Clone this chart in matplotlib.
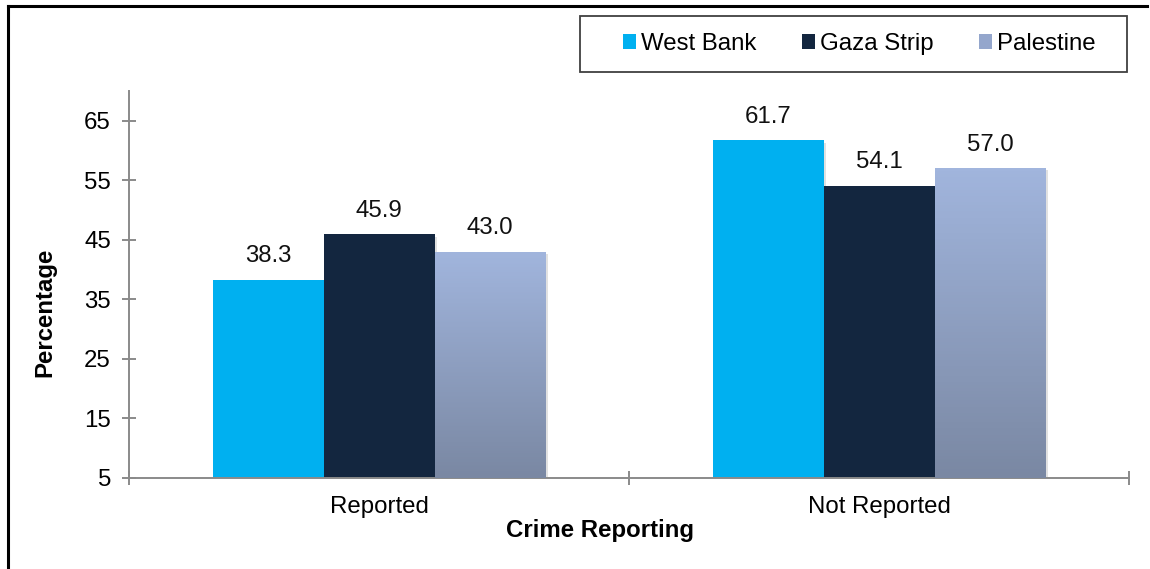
import matplotlib
matplotlib.use("Agg")
import matplotlib.pyplot as plt
import matplotlib.patheffects as pe
from matplotlib.colors import LinearSegmentedColormap
import numpy as np

plt.rcParams['font.family'] = ['Liberation Sans', 'DejaVu Sans']

# data
categories = ['Reported', 'Not Reported']
series_names = ['West Bank', 'Gaza Strip', 'Palestine']
west_bank = [38.3, 61.7]
gaza_strip = [45.9, 54.1]
palestine = [43.0, 57.0]
y_ticks = [5, 15, 25, 35, 45, 55, 65]

colors = ['#00B0F0', '#13263F', '#94A6CC']
grad = LinearSegmentedColormap.from_list('pal', ['#7A88A3', '#A1B5DD'])
axis_grey = '#8A8A8A'
fs = 17.3

fig = plt.figure(figsize=(11.5, 5.69), dpi=100)
ax = fig.add_axes([129 / 1150, 1 - 478 / 569, 1000 / 1150, 387 / 569])

x = np.arange(len(categories))
w = 0.222
shadow = [pe.SimplePatchShadow(offset=(2, -1.5), shadow_rgbFace='#888888', alpha=0.25), pe.Normal()]

all_series = [west_bank, gaza_strip, palestine]
for i, vals in enumerate(all_series):
    bars = ax.bar(x + (i - 1) * w, np.array(vals) - 5, w, bottom=5,
                  color=colors[i], label=series_names[i], zorder=2)
    for b, v in zip(bars, vals):
        b.set_path_effects(shadow)
        if i == 2:
            # gradient fill top to bottom
            x0, x1 = b.get_x(), b.get_x() + b.get_width()
            im = ax.imshow(np.linspace(1, 0, 100).reshape(-1, 1), cmap=grad,
                           extent=[x0, x1, 5, v], aspect='auto', zorder=3)
            im.set_clip_path(b)
        ax.annotate('%.1f' % v, (b.get_x() + b.get_width() / 2, v),
                    xytext=(0, 17), textcoords='offset points',
                    ha='center', va='center', fontsize=fs, color='#111111', zorder=5)

ax.set_xlim(-0.5, 1.5)
ax.set_ylim(5, 70)
ax.set_yticks(y_ticks)
ax.set_xticks([-0.5, 0.5, 1.5])
ax.set_xticklabels([])
ax.set_xticks(x, minor=True)
ax.set_xticklabels(categories, minor=True)
ax.tick_params(axis='x', which='minor', length=0, pad=13, labelsize=fs)
ax.tick_params(axis='x', which='major', direction='inout', length=10, width=1.4, color=axis_grey)
ax.tick_params(axis='y', direction='inout', length=10, width=1.4, color=axis_grey,
               labelsize=fs, pad=8)

for s in ['top', 'right']:
    ax.spines[s].set_visible(False)
for s in ['left', 'bottom']:
    ax.spines[s].set_color(axis_grey)
    ax.spines[s].set_linewidth(1.4)

fig.text(600 / 1150, 1 - 531 / 569, 'Crime Reporting', ha='center', va='center',
         fontsize=fs, fontweight='bold')
fig.text(45 / 1150, 1 - 312 / 569, 'Percentage', ha='center', va='center',
         rotation=90, fontsize=fs, fontweight='bold')

# legend entries without frame, box drawn separately
leg = fig.legend(loc='center', bbox_to_anchor=(859 / 1150, 1 - 44 / 569), ncol=3,
                 fontsize=fs, frameon=False, handlelength=0.55,
                 handleheight=0.55, handletextpad=0.2, columnspacing=1.9,
                 borderpad=0, borderaxespad=0)
for h in leg.legend_handles:
    h.set_path_effects([])
fig.add_artist(plt.Rectangle((580 / 1150, 1 - 72 / 569), 547 / 1150, 56 / 569,
                             transform=fig.transFigure, fill=False,
                             edgecolor='#404040', lw=1.3))

# outer frame lines
fig.add_artist(plt.Line2D([8 / 1150, 8 / 1150], [0, 1 - 5.5 / 569], color='black', lw=2.2,
                          transform=fig.transFigure))
fig.add_artist(plt.Line2D([8 / 1150, 1147 / 1150], [1 - 5.5 / 569, 1 - 5.5 / 569],
                          color='black', lw=2.2, transform=fig.transFigure))

fig.savefig('out.png', dpi=100)
